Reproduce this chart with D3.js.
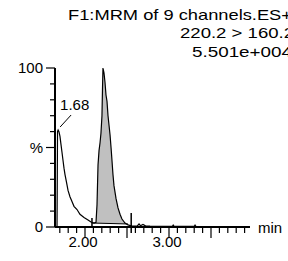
<!DOCTYPE html>
<html>
<head>
<meta charset="utf-8">
<script src="https://cdn.jsdelivr.net/npm/d3@7"></script>
<style>
  html, body { margin: 0; padding: 0; background: #fff; }
  svg { display: block; }
  text { font-family: "Liberation Sans", Arial, sans-serif; fill: #000; }
</style>
</head>
<body>
<svg id="chart" width="288" height="261"></svg>
<script>
// header lines, as printed by the instrument software
const headerLines = ["F1:MRM of 9 channels.ES+", "220.2 > 160.2", "5.501e+004"];

// chromatogram, time in min vs relative intensity in %
const times = [1.667, 1.673, 1.68, 1.69, 1.702, 1.714, 1.726, 1.738, 1.75, 1.762, 1.78, 1.798,
  1.821, 1.845, 1.869, 1.905, 1.94, 1.988, 2.036, 2.071, 2.107, 2.131, 2.143, 2.155, 2.167,
  2.179, 2.19, 2.202, 2.208, 2.214, 2.226, 2.238, 2.25, 2.262, 2.274, 2.286, 2.298, 2.31,
  2.321, 2.333, 2.345, 2.369, 2.393, 2.417, 2.44, 2.476, 2.512, 2.56, 2.62, 2.643, 2.66,
  2.69, 2.72, 2.774, 3.04, 3.05, 3.06, 3.30, 3.31, 3.32, 3.964];
const intensity = [0, 60, 61, 60, 57, 52, 47, 42, 37, 33, 28, 23,
  19, 16, 13, 11, 8, 6, 4.4, 3.1, 2.5, 3, 14, 39, 48,
  53, 59, 70, 86, 100, 97, 91, 83, 79, 70, 64, 58, 50,
  42, 33, 26, 18, 12, 8, 5, 2.5, 1.3, 0.6, 0.6, 1.9, 0.8,
  1.6, 0.7, 0.5, 0.4, 1.2, 0.4, 0.4, 1.2, 0.4, 0.3];

// labelled peaks
const peakTimes = [1.68];
const peakLabels = ["1.68"];

// integrated peak: start/end times and baseline heights (%)
const integTimes = [2.083, 2.512];
const integBase = [2.5, 1.9];
const markerTimes = [2.083, 2.55];

// axis ticks
const xTickLabels = [2.0, 3.0];
const yTickLabels = [{ v: 0, t: "0" }, { v: 50, t: "%" }, { v: 100, t: "100" }];

const svg = d3.select("#chart");

const x = d3.scaleLinear().domain([2.0, 3.0]).range([85, 169]);
const y = d3.scaleLinear().domain([0, 100]).range([227, 68]);
const xEnd = 250;

// title block
const headerX = [68, 180, 192];
const headerY = [20, 38, 57];
const headerLen = [224, 114, 100];
svg.selectAll("text.hdr")
  .data(headerLines)
  .join("text")
  .attr("class", "hdr")
  .attr("x", (d, i) => headerX[i])
  .attr("y", (d, i) => headerY[i])
  .attr("font-size", 15)
  .attr("textLength", (d, i) => headerLen[i])
  .attr("lengthAdjust", "spacingAndGlyphs")
  .text(d => d);

// grey fill for the integrated peak
const base = d3.scaleLinear().domain(integTimes).range(integBase);
const pts = times.map((t, i) => [t, intensity[i]]);
const inPeak = pts.filter(p => p[0] >= integTimes[0] && p[0] <= integTimes[1]);
svg.append("path")
  .datum(inPeak)
  .attr("fill", "#c0c0c0")
  .attr("stroke", "none")
  .attr("d", d3.area()
    .x(d => x(d[0]))
    .y0(d => y(base(d[0])))
    .y1(d => y(d[1])));

// integration baseline
svg.append("line")
  .attr("x1", x(integTimes[0])).attr("y1", y(integBase[0]))
  .attr("x2", x(integTimes[1])).attr("y2", y(integBase[1]))
  .attr("stroke", "#000").attr("stroke-width", 1);

// trace
svg.append("path")
  .datum(pts)
  .attr("fill", "none")
  .attr("stroke", "#000")
  .attr("stroke-width", 1.2)
  .attr("d", d3.line().x(d => x(d[0])).y(d => y(d[1])));

// peak start / end markers
svg.selectAll("line.mark")
  .data(markerTimes)
  .join("line")
  .attr("class", "mark")
  .attr("x1", d => x(d)).attr("x2", d => x(d))
  .attr("y1", (d, i) => i === 0 ? 218 : 213)
  .attr("y2", (d, i) => i === 0 ? 227 : 233)
  .attr("stroke", "#000").attr("stroke-width", 1.5);

// x axis
const g = svg.append("g");
g.append("line")
  .attr("x1", 55).attr("x2", xEnd)
  .attr("y1", y(0)).attr("y2", y(0))
  .attr("stroke", "#000").attr("stroke-width", 2);

const xTicks = d3.range(17, 40).map(v => v / 10);
g.selectAll("line.xt")
  .data(xTicks)
  .join("line")
  .attr("class", "xt")
  .attr("x1", d => x(d)).attr("x2", d => x(d))
  .attr("y1", y(0))
  .attr("y2", d => y(0) + (Math.round(d * 10) % 5 === 0 ? 11 : 6))
  .attr("stroke", "#000").attr("stroke-width", 1.2);

g.selectAll("text.xl")
  .data(xTickLabels)
  .join("text")
  .attr("class", "xl")
  .attr("x", d => x(d) - 2)
  .attr("y", 247)
  .attr("text-anchor", "middle")
  .attr("font-size", 15)
  .text(d => d.toFixed(2));

g.append("text")
  .attr("x", 258).attr("y", 233)
  .attr("font-size", 15)
  .text("min");

// y axis
g.append("line")
  .attr("x1", 55).attr("x2", 55)
  .attr("y1", y(100)).attr("y2", y(0))
  .attr("stroke", "#000").attr("stroke-width", 2);

const yTicks = d3.range(0, 101, 10);
g.selectAll("line.yt")
  .data(yTicks)
  .join("line")
  .attr("class", "yt")
  .attr("x1", d => 55 - (d % 50 === 0 ? 9 : 5)).attr("x2", 55)
  .attr("y1", d => y(d)).attr("y2", d => y(d))
  .attr("stroke", "#000").attr("stroke-width", 1.2);

g.selectAll("text.yl")
  .data(yTickLabels)
  .join("text")
  .attr("class", "yl")
  .attr("x", 43)
  .attr("y", d => y(d.v))
  .attr("dy", "0.36em")
  .attr("text-anchor", "end")
  .attr("font-size", 15)
  .text(d => d.t);

// peak labels with leader lines
peakTimes.forEach((t, i) => {
  const v = intensity[times.indexOf(t)];
  svg.append("line")
    .attr("x1", x(t) + 2).attr("y1", y(v) - 3)
    .attr("x2", x(t) + 13).attr("y2", y(v) - 15)
    .attr("stroke", "#000").attr("stroke-width", 1);
  svg.append("text")
    .attr("x", x(t) + 2).attr("y", y(v) - 20)
    .attr("font-size", 15)
    .text(peakLabels[i]);
});
</script>
</body>
</html>
